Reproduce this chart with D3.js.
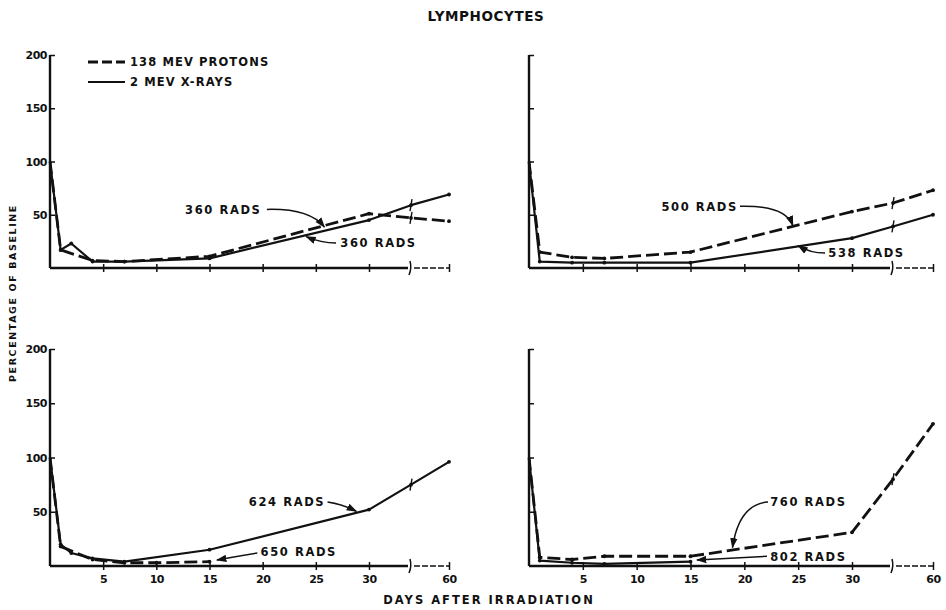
<!DOCTYPE html>
<html>
<head>
<meta charset="utf-8">
<script src="https://cdn.jsdelivr.net/npm/d3@7"></script>
<style>
  body { margin: 0; background: #fff; }
  text { font-family: "DejaVu Sans", sans-serif; font-weight: bold; fill: #111; }
</style>
</head>
<body>
<div id="chart"></div>
<script>
// Lymphocytes, % of baseline vs days after irradiation
// 4 panels: protons (dashed) vs x-rays (solid)

// top left: 360 rads protons / 360 rads x-rays
const tlProtonDays = [0, 1, 4, 7, 15, 30, 45, 60];
const tlProtonVals = [100, 17, 7, 6, 11, 51, 47, 44];
const tlXrayDays = [0, 1, 2, 4, 7, 15, 30, 45, 60];
const tlXrayVals = [100, 17, 23, 6, 6, 9, 45, 59, 69];

// top right: 500 rads protons / 538 rads x-rays
const trProtonDays = [0, 1, 4, 7, 15, 30, 45, 60];
const trProtonVals = [100, 15, 10, 9, 15, 53, 61, 73];
const trXrayDays = [0, 1, 4, 7, 15, 30, 45, 60];
const trXrayVals = [100, 6, 5, 5, 5, 28, 39, 50];

// bottom left: 650 rads protons / 624 rads x-rays
const blProtonDays = [0, 1, 4, 7, 10, 15];
const blProtonVals = [100, 18, 6, 3, 3, 4];
const blXrayDays = [0, 1, 2, 4, 7, 15, 30, 45, 60];
const blXrayVals = [100, 20, 12, 7, 4, 15, 52, 75, 96];

// bottom right: 760 rads protons / 802 rads x-rays
const brProtonDays = [0, 1, 4, 7, 15, 30, 45, 60];
const brProtonVals = [100, 8, 6, 9, 9, 31, 80, 131];
const brXrayDays = [0, 1, 4, 7, 15];
const brXrayVals = [100, 5, 3, 2, 4];

const yTicks = [50, 100, 150, 200];
const xTicks = [5, 10, 15, 20, 25, 30, 60];
const breakDay = 45;

const legendLabels = ["138 MEV PROTONS", "2 MEV X-RAYS"];

// dose labels: text start, leader start, bend, arrow end (in day / % units)
const tlNotes = [
  { text: "360 RADS", at: [12.7, 54.5], from: [20.4, 55], ctrl: [24.4, 56], to: [25.8, 38.5] },
  { text: "360 RADS", at: [27.3, 23.5], from: [26.9, 23.5], ctrl: [25.5, 23.5], to: [24.1, 29.5] }
];
const trNotes = [
  { text: "500 RADS", at: [12.3, 57], from: [19.6, 58], ctrl: [23.8, 59], to: [24.5, 40] },
  { text: "538 RADS", at: [27.8, 14], from: [27.5, 14], ctrl: [26.1, 14], to: [25, 21] }
];
const blNotes = [
  { text: "624 RADS", at: [18.7, 59], from: [26.1, 59], ctrl: [27.5, 57], to: [28.8, 50.5] },
  { text: "650 RADS", at: [19.8, 12.5], from: [19.5, 12], ctrl: [17.6, 9], to: [15.7, 5.5] }
];
const brNotes = [
  { text: "760 RADS", at: [22.4, 59], from: [22.2, 59], ctrl: [19.5, 57], to: [18.9, 17] },
  { text: "802 RADS", at: [22.4, 8.5], from: [22.1, 9], ctrl: [18.8, 7.3], to: [15.6, 5.5] }
];

const panels = [
  { xr: [50, 369, 411, 449], yr: [268, 55], yLab: true, xLab: false,
    series: [[tlProtonDays, tlProtonVals, "p"], [tlXrayDays, tlXrayVals, "x"]], notes: tlNotes },
  { xr: [529, 852, 893, 933], yr: [268, 55], yLab: false, xLab: false,
    series: [[trProtonDays, trProtonVals, "p"], [trXrayDays, trXrayVals, "x"]], notes: trNotes },
  { xr: [50, 369, 411, 449], yr: [566, 349], yLab: true, xLab: true,
    series: [[blProtonDays, blProtonVals, "p"], [blXrayDays, blXrayVals, "x"]], notes: blNotes },
  { xr: [529, 852, 893, 933], yr: [566, 349], yLab: false, xLab: true,
    series: [[brProtonDays, brProtonVals, "p"], [brXrayDays, brXrayVals, "x"]], notes: brNotes }
];

const ink = "#111";

const svg = d3.select("#chart")
  .append("svg")
  .attr("width", 946)
  .attr("height", 610);

svg.append("defs").append("marker")
    .attr("id", "arrow")
    .attr("viewBox", "0 0 10 10")
    .attr("refX", 9).attr("refY", 5)
    .attr("markerWidth", 7).attr("markerHeight", 7)
    .attr("orient", "auto-start-reverse")
  .append("path")
    .attr("d", "M0,1.5L10,5L0,8.5Z")
    .attr("fill", ink);

// title
svg.append("text")
  .attr("x", 486).attr("y", 21)
  .attr("text-anchor", "middle")
  .style("font-size", "13.5px")
  .style("letter-spacing", "0.6px")
  .text("LYMPHOCYTES");

// axis titles
svg.append("text")
  .attr("transform", "translate(16,293) rotate(-90)")
  .attr("text-anchor", "middle")
  .style("font-size", "9.5px")
  .style("letter-spacing", "1.6px")
  .text("PERCENTAGE OF BASELINE");

svg.append("text")
  .attr("x", 489).attr("y", 604)
  .attr("text-anchor", "middle")
  .style("font-size", "11.5px")
  .style("letter-spacing", "2px")
  .text("DAYS AFTER IRRADIATION");

panels.forEach(p => {
  const x = d3.scaleLinear().domain([0, 30, breakDay, 60]).range(p.xr);
  const y = d3.scaleLinear().domain([0, 200]).range(p.yr);
  const g = svg.append("g");

  // y axis: ticks point inward
  const yAxis = g.append("g")
    .attr("transform", `translate(${x(0)},0)`)
    .call(d3.axisLeft(y).tickValues(yTicks).tickSize(-5).tickPadding(3)
      .tickFormat(p.yLab ? d3.format("d") : () => ""));
  yAxis.select(".domain").remove();
  yAxis.selectAll("line").attr("stroke", ink).attr("stroke-width", 1.5);
  yAxis.selectAll("text").style("font-size", "11px").style("font-family", "DejaVu Sans").style("letter-spacing", "-0.5px");
  g.append("line")
    .attr("x1", x(0)).attr("x2", x(0))
    .attr("y1", y(0)).attr("y2", y(200))
    .attr("stroke", ink).attr("stroke-width", 2.4);

  // x axis with a break between 30 and 60
  const xAxis = g.append("g")
    .attr("transform", `translate(0,${y(0)})`)
    .call(d3.axisBottom(x).tickValues(xTicks).tickSize(4).tickPadding(5)
      .tickFormat(p.xLab ? d3.format("d") : () => ""));
  xAxis.select(".domain").remove();
  xAxis.selectAll("line").attr("y1", -4).attr("stroke", ink).attr("stroke-width", 1.5);
  xAxis.selectAll("text").style("font-size", "11px").style("font-family", "DejaVu Sans").style("letter-spacing", "-0.5px");

  const bx = x(breakDay);
  g.append("line")
    .attr("x1", x(0)).attr("x2", bx - 3)
    .attr("y1", y(0)).attr("y2", y(0))
    .attr("stroke", ink).attr("stroke-width", 2.4);
  g.append("line")
    .attr("x1", bx + 3).attr("x2", x(60))
    .attr("y1", y(0)).attr("y2", y(0))
    .attr("stroke", ink).attr("stroke-width", 1.6)
    .attr("stroke-dasharray", "6,2");
  g.append("path")
    .attr("d", `M${bx - 2},${y(0) + 7}Q${bx + 1},${y(0)} ${bx - 1},${y(0) - 7}`)
    .attr("fill", "none").attr("stroke", ink).attr("stroke-width", 1.5);

  const line = d3.line().x(d => x(d[0])).y(d => y(d[1]));

  p.series.forEach(([days, vals, kind]) => {
    const pts = days.map((d, i) => [d, vals[i]]);
    g.append("path")
      .datum(pts)
      .attr("fill", "none")
      .attr("stroke", ink)
      .attr("stroke-width", kind === "p" ? 2.8 : 2.2)
      .attr("stroke-linejoin", "round")
      .attr("stroke-dasharray", kind === "p" ? "13,5" : null)
      .attr("d", line);

    g.selectAll(null)
      .data(pts.slice(1))
      .join("circle")
        .attr("cx", d => x(d[0]))
        .attr("cy", d => y(d[1]))
        .attr("r", 1.9)
        .attr("fill", ink);

    // break marks on the curves
    g.selectAll(null)
      .data(pts.filter(d => d[0] === breakDay))
      .join("line")
        .attr("x1", d => x(d[0]) - 1).attr("x2", d => x(d[0]) + 1)
        .attr("y1", d => y(d[1]) + 6).attr("y2", d => y(d[1]) - 6)
        .attr("stroke", ink).attr("stroke-width", 1.4);
  });

  // dose labels with leaders
  p.notes.forEach(n => {
    g.append("text")
      .attr("x", x(n.at[0])).attr("y", y(n.at[1]))
      .attr("dy", "0.35em")
      .style("font-size", "11.5px")
      .style("letter-spacing", "1.6px")
      .text(n.text);
    g.append("path")
      .attr("d", `M${x(n.from[0])},${y(n.from[1])}Q${x(n.ctrl[0])},${y(n.ctrl[1])} ${x(n.to[0])},${y(n.to[1])}`)
      .attr("fill", "none")
      .attr("stroke", ink)
      .attr("stroke-width", 1.5)
      .attr("marker-end", "url(#arrow)");
  });
});

// legend in the top-left panel
legendLabels.forEach((lab, i) => {
  const ly = 62 + i * 20;
  svg.append("line")
    .attr("x1", 88).attr("x2", 125)
    .attr("y1", ly).attr("y2", ly)
    .attr("stroke", ink)
    .attr("stroke-width", i === 0 ? 2.8 : 2.2)
    .attr("stroke-dasharray", i === 0 ? "10,4" : null);
  svg.append("text")
    .attr("x", 130).attr("y", ly)
    .attr("dy", "0.35em")
    .style("font-size", "11.5px")
    .style("letter-spacing", "1.1px")
    .text(lab);
});
</script>
</body>
</html>
